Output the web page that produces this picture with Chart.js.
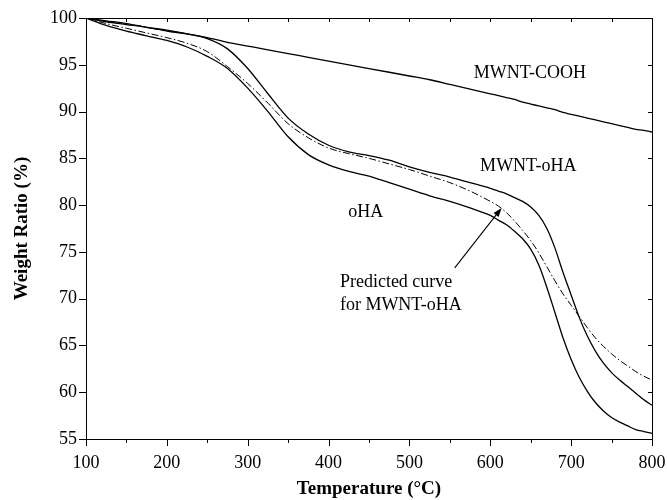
<!DOCTYPE html>
<html>
<head>
<meta charset="utf-8">
<title>TGA curves</title>
<script src="https://cdn.jsdelivr.net/npm/chart.js@4.4.1/dist/chart.umd.min.js"></script>
<style>
  html, body { margin: 0; padding: 0; background: #ffffff; }
  #wrap { width: 667px; height: 500px; }
</style>
</head>
<body>
<div id="wrap"><canvas id="tga" width="667" height="500"></canvas></div>
<script>
// Temperature (°C) sample points
const temps = [100,125,150,175,200,225,250,275,300,325,350,375,400,425,450,475,500,525,550,575,
               600,610,620,630,640,650,660,670,680,690,700,710,720,730,740,750,760,770,780,790,800];

// Weight ratio (%) for each sample
const mwntCooh = [100,99.6,99.3,99.0,98.6,98.3,97.9,97.4,97.0,96.6,96.2,95.8,95.4,95.0,94.6,94.2,93.8,93.4,92.9,92.4,
                  91.9,91.7,91.5,91.3,91.0,90.8,90.6,90.4,90.2,89.9,89.7,89.5,89.3,89.1,88.9,88.7,88.5,88.3,88.1,88.0,87.8];
const mwntOha  = [100,99.7,99.4,99.0,98.7,98.3,97.8,96.7,94.6,91.9,89.3,87.6,86.4,85.7,85.3,84.8,84.1,83.5,83.0,82.4,
                  81.8,81.5,81.2,80.8,80.4,79.8,78.9,77.5,75.4,72.8,70.4,68.0,66.0,64.4,63.1,62.1,61.3,60.6,59.9,59.2,58.6];
const predicted = [100,99.4,98.9,98.4,97.9,97.3,96.4,94.8,93.0,90.9,88.7,87.2,86.1,85.5,85.0,84.4,83.8,83.1,82.4,81.5,
                   80.4,79.9,79.2,78.3,77.3,76.2,74.9,73.4,71.9,70.5,69.3,68.1,66.9,65.8,64.9,64.1,63.4,62.8,62.2,61.7,61.3];
const oha      = [100,99.2,98.6,98.1,97.6,96.9,95.9,94.6,92.5,90.0,87.3,85.4,84.3,83.6,83.1,82.4,81.7,81.0,80.4,79.7,
                  78.9,78.4,77.9,77.2,76.4,75.3,73.6,71.2,68.5,65.8,63.5,61.6,60.1,58.9,58.0,57.3,56.8,56.4,56.0,55.8,55.6];

// Axis ticks
const xTicks = [100,200,300,400,500,600,700,800];
const yTicks = [55,60,65,70,75,80,85,90,95,100];

const toPoints = ys => temps.map((t, i) => ({ x: t, y: ys[i] }));

const SERIF = "'Liberation Serif', 'DejaVu Serif', serif";
Chart.defaults.font.family = SERIF;
Chart.defaults.color = '#000';

// Curve labels placed in data coordinates
const curveLabels = [
  { text: 'MWNT-COOH', t: 649, w: 94.05, align: 'center' },
  { text: 'MWNT-oHA',  t: 647, w: 84.15, align: 'center' },
  { text: 'oHA',       t: 446, w: 79.25, align: 'center' },
  { text: 'Predicted curve', t: 414, w: 71.8, align: 'left' },
  { text: 'for MWNT-oHA',    t: 414, w: 69.25, align: 'left' }
];
const pointer = { from: { t: 556, w: 73.3 }, to: { t: 614, w: 79.7 } };

const framePlugin = {
  id: 'frameTicks',
  afterDraw(chart) {
    const { ctx, chartArea: a, scales: { x, y } } = chart;
    ctx.save();
    ctx.strokeStyle = '#000';
    ctx.lineWidth = 1;
    ctx.strokeRect(Math.round(a.left) + 0.5, Math.round(a.top) + 0.5,
                   Math.round(a.right - a.left), Math.round(a.bottom - a.top));
    ctx.beginPath();
    for (let v = 100; v <= 800; v += 50) {
      const px = Math.round(x.getPixelForValue(v)) + 0.5;
      const major = v % 100 === 0;
      ctx.moveTo(px, a.bottom);
      ctx.lineTo(px, a.bottom + (major ? 7 : 4));
      ctx.moveTo(px, a.top);
      ctx.lineTo(px, a.top + 4);
    }
    for (const v of yTicks) {
      const py = Math.round(y.getPixelForValue(v)) + 0.5;
      ctx.moveTo(a.left - 7, py);
      ctx.lineTo(a.left, py);
      ctx.moveTo(a.right, py);
      ctx.lineTo(a.right - 4, py);
    }
    ctx.stroke();

    // curve labels
    ctx.fillStyle = '#000';
    ctx.font = '18px ' + SERIF;
    ctx.textBaseline = 'middle';
    for (const l of curveLabels) {
      ctx.textAlign = l.align;
      ctx.fillText(l.text, x.getPixelForValue(l.t), y.getPixelForValue(l.w));
    }

    // arrow to the predicted curve
    const x0 = x.getPixelForValue(pointer.from.t), y0 = y.getPixelForValue(pointer.from.w);
    const x1 = x.getPixelForValue(pointer.to.t),   y1 = y.getPixelForValue(pointer.to.w);
    const ang = Math.atan2(y1 - y0, x1 - x0);
    const hl = 9, hw = 3.2;
    ctx.beginPath();
    ctx.moveTo(x0, y0);
    ctx.lineTo(x1 - Math.cos(ang) * hl * 0.8, y1 - Math.sin(ang) * hl * 0.8);
    ctx.lineWidth = 1.1;
    ctx.stroke();
    ctx.beginPath();
    ctx.moveTo(x1, y1);
    ctx.lineTo(x1 - Math.cos(ang) * hl - Math.sin(ang) * hw, y1 - Math.sin(ang) * hl + Math.cos(ang) * hw);
    ctx.lineTo(x1 - Math.cos(ang) * hl + Math.sin(ang) * hw, y1 - Math.sin(ang) * hl - Math.cos(ang) * hw);
    ctx.closePath();
    ctx.fill();
    ctx.restore();
  }
};

const solid = (label, ys) => ({
  label, data: toPoints(ys), borderColor: '#000', borderWidth: 1.3,
  pointRadius: 0, fill: false, cubicInterpolationMode: 'monotone'
});

new Chart(document.getElementById('tga'), {
  type: 'line',
  data: {
    datasets: [
      solid('MWNT-COOH', mwntCooh),
      solid('MWNT-oHA', mwntOha),
      Object.assign(solid('Predicted curve for MWNT-oHA', predicted), { borderWidth: 1, borderDash: [7, 2.5, 1.5, 2.5] }),
      solid('oHA', oha)
    ]
  },
  options: {
    responsive: false,
    animation: false,
    layout: { padding: { top: 18, right: 15, left: 0, bottom: 0 } },
    plugins: { legend: { display: false }, tooltip: { enabled: false } },
    scales: {
      x: {
        type: 'linear', min: 100, max: 800,
        afterBuildTicks: s => { s.ticks = xTicks.map(v => ({ value: v })); },
        afterFit: s => { s.height = 61; s.paddingLeft = 0; s.paddingRight = 0; },
        grid: { display: false, drawTicks: false },
        border: { display: false },
        ticks: { color: '#000', font: { size: 18 }, padding: 13, maxRotation: 0 },
        title: { display: true, text: 'Temperature (°C)', color: '#000',
                 font: { size: 19, weight: 'bold' }, padding: { top: 0, bottom: 0 } }
      },
      y: {
        type: 'linear', min: 55, max: 100,
        afterBuildTicks: s => { s.ticks = yTicks.map(v => ({ value: v })); },
        afterFit: s => { s.width = 86; s.paddingTop = 0; s.paddingBottom = 0; },
        grid: { display: false, drawTicks: false },
        border: { display: false },
        ticks: { color: '#000', font: { size: 18 }, padding: 9 },
        title: { display: true, text: 'Weight Ratio (%)', color: '#000',
                 font: { size: 19, weight: 'bold' }, padding: { top: 11, bottom: 0 } }
      }
    }
  },
  plugins: [framePlugin]
});
</script>
</body>
</html>
